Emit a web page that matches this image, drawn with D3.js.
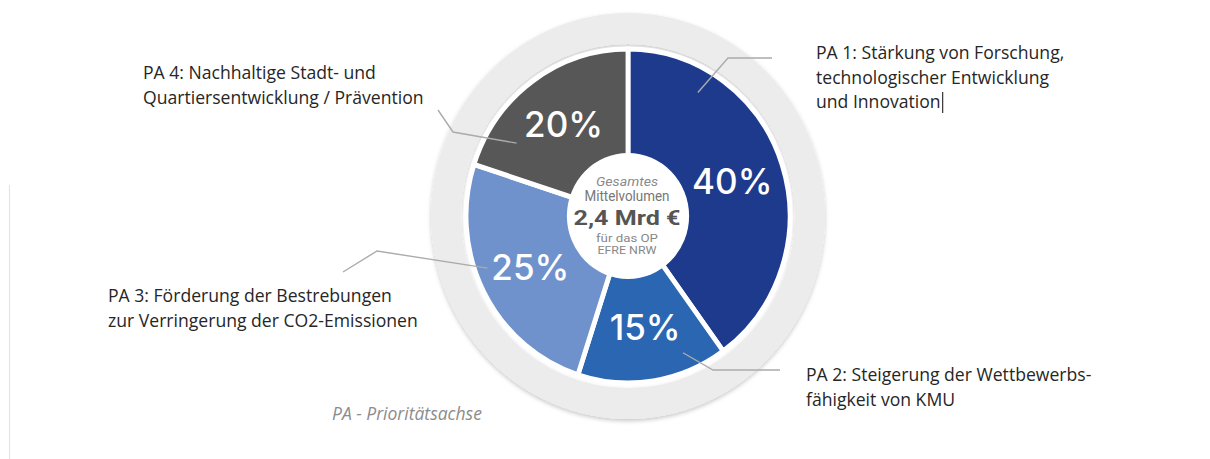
<!DOCTYPE html>
<html>
<head>
<meta charset="utf-8">
<title>EFRE NRW Mittelverteilung</title>
<style>
  body { margin: 0; background: #fff; }
  svg { display: block; }
</style>
</head>
<body>
<div id="chart"></div>
<script src="https://d3js.org/d3.v7.min.js"></script>
<script>
// Daten
var categories = ["PA 1", "PA 2", "PA 3", "PA 4"];
var shares = [40, 15, 25, 20];
var shareLabels = ["40%", "15%", "25%", "20%"];
var labelLines = [
  ["PA 1: Stärkung von Forschung,", "technologischer Entwicklung", "und Innovation"],
  ["PA 2: Steigerung der Wettbewerbs-", "fähigkeit von KMU"],
  ["PA 3: Förderung der Bestrebungen", "zur Verringerung der CO2-Emissionen"],
  ["PA 4: Nachhaltige Stadt- und", "Quartiersentwicklung / Prävention"]
];
var centerLines = ["Gesamtes", "Mittelvolumen", "2,4 Mrd €", "für das OP", "EFRE NRW"];
var footnote = "PA - Prioritätsachse";

// Farben / Layout
var colors = ["#1e3a8d", "#2a66b1", "#7092cc", "#575757"];
var W = 1210, H = 459;
var cx = 628, cy = 216, sx = 0.97;

// Beschriftungen: x, erste Grundlinie
var labelPos = [[816, 59], [806, 381], [108, 302], [143, 79]];
// Führungslinien: Winkelanteil im Segment, Radius, Knick, Ende
var leaders = [
  { t: 0.21, r: 143, elbow: [728, 58], end: [772, 58] },
  { t: 0.25, r: 148, elbow: [713, 370], end: [780, 370] },
  { t: 0.58, r: 154, elbow: [377, 251], end: [343, 272] },
  { t: 0.20, r: 136, elbow: [453, 132], end: [438, 110] }
];

var svg = d3.select("#chart").append("svg")
  .attr("width", W).attr("height", H);

var defs = svg.append("defs");
var f = defs.append("filter").attr("id", "shadow")
  .attr("x", "-10%").attr("y", "-10%").attr("width", "120%").attr("height", "120%");
f.append("feDropShadow").attr("dx", 0).attr("dy", 2).attr("stdDeviation", 2)
  .attr("flood-color", "#000").attr("flood-opacity", 0.22);

// kleine Artefakte aus der Vorlage
svg.append("line").attr("x1", 9.5).attr("x2", 9.5).attr("y1", 185).attr("y2", H)
  .attr("stroke", "#e4e4e4").attr("stroke-width", 1.2);

var g = svg.append("g")
  .attr("transform", "translate(" + cx + "," + cy + ") scale(" + sx + ",1)");

// äußerer Ring
g.append("path")
  .attr("d", d3.arc().innerRadius(172).outerRadius(203).startAngle(0).endAngle(2 * Math.PI)())
  .attr("fill", "#ececec")
  .attr("filter", "url(#shadow)");

var pie = d3.pie().sort(null).value(function(d) { return d; });
var arcs = pie(shares);
var arc = d3.arc().innerRadius(0).outerRadius(167);

g.selectAll("path.slice")
  .data(arcs)
  .enter()
  .append("path")
  .attr("class", "slice")
  .attr("d", arc)
  .attr("fill", function(d, i) { return colors[i]; })
  .attr("stroke", "#fff")
  .attr("stroke-width", 5)
  .attr("stroke-linejoin", "round");

g.append("circle").attr("r", 63).attr("fill", "#fff");

// Punkt auf Polarkoordinate (Winkel ab 12 Uhr, im Uhrzeigersinn)
function polar(a, r) {
  return [cx + sx * r * Math.sin(a), cy - r * Math.cos(a)];
}

// Führungslinien
svg.selectAll("path.leader")
  .data(arcs)
  .enter()
  .append("path")
  .attr("class", "leader")
  .attr("d", function(d, i) {
    var L = leaders[i];
    var a = d.startAngle + L.t * (d.endAngle - d.startAngle);
    return d3.line()([polar(a, L.r), L.elbow, L.end]);
  })
  .attr("fill", "none")
  .attr("stroke", "#ababab")
  .attr("stroke-width", 1.4);

// Prozentwerte
var labelArc = d3.arc().innerRadius(113).outerRadius(113);
svg.selectAll("text.pct")
  .data(arcs)
  .enter()
  .append("text")
  .attr("class", "pct")
  .attr("x", function(d) { return cx + sx * labelArc.centroid(d)[0]; })
  .attr("y", function(d) { return cy + labelArc.centroid(d)[1]; })
  .attr("dy", "0.36em")
  .attr("text-anchor", "middle")
  .attr("font-family", "Inter, 'Open Sans', sans-serif")
  .attr("font-size", 35)
  .attr("font-weight", 500)
  .attr("fill", "#fff")
  .text(function(d, i) { return shareLabels[i]; });

// Mitteltext
var cStyles = [
  { y: 186, size: 12.5, weight: 400, style: "italic", fill: "#8a8a8a", w: 62 },
  { y: 201, size: 14, weight: 400, style: "normal", fill: "#777", w: 85 },
  { y: 225, size: 21, weight: 700, style: "normal", fill: "#555", w: 107 },
  { y: 242, size: 11.5, weight: 400, style: "normal", fill: "#888", w: 62 },
  { y: 254, size: 11.5, weight: 400, style: "normal", fill: "#888", w: 59 }
];
svg.selectAll("text.center")
  .data(centerLines)
  .enter()
  .append("text")
  .attr("class", "center")
  .attr("x", cx - 1)
  .attr("y", function(d, i) { return cStyles[i].y; })
  .attr("text-anchor", "middle")
  .attr("font-family", "Roboto, sans-serif")
  .attr("font-size", function(d, i) { return cStyles[i].size; })
  .attr("font-weight", function(d, i) { return cStyles[i].weight; })
  .attr("font-style", function(d, i) { return cStyles[i].style; })
  .attr("fill", function(d, i) { return cStyles[i].fill; })
  .attr("textLength", function(d, i) { return cStyles[i].w; })
  .attr("lengthAdjust", "spacingAndGlyphs")
  .text(function(d) { return d; });

// Segmentbeschriftungen
var labels = svg.selectAll("text.lab")
  .data(labelLines)
  .enter()
  .append("text")
  .attr("class", "lab")
  .attr("font-family", "'Open Sans', sans-serif")
  .attr("font-size", 17.6)
  .attr("fill", "#262626");

labels.selectAll("tspan")
  .data(function(d, i) { return d.map(function(s) { return { s: s, i: i }; }); })
  .enter()
  .append("tspan")
  .attr("x", function(d) { return labelPos[d.i][0]; })
  .attr("y", function(d, j) { return labelPos[d.i][1] + j * 24.5; })
  .text(function(d) { return d.s; });

// Textcursor hinter "Innovation"
var lastLine = labels.filter(function(d, i) { return i === 0; }).selectAll("tspan").filter(function(d, j) { return j === 2; });
var curX = labelPos[0][0] + lastLine.node().getComputedTextLength() + 2;
svg.append("line").attr("x1", curX).attr("x2", curX).attr("y1", 92).attr("y2", 113)
  .attr("stroke", "#333").attr("stroke-width", 1.2);

svg.append("text")
  .attr("x", 332).attr("y", 420)
  .attr("font-family", "'Open Sans', sans-serif")
  .attr("font-size", 17.5)
  .attr("font-style", "italic")
  .attr("fill", "#8c8c8c")
  .text(footnote);
</script>
</body>
</html>
